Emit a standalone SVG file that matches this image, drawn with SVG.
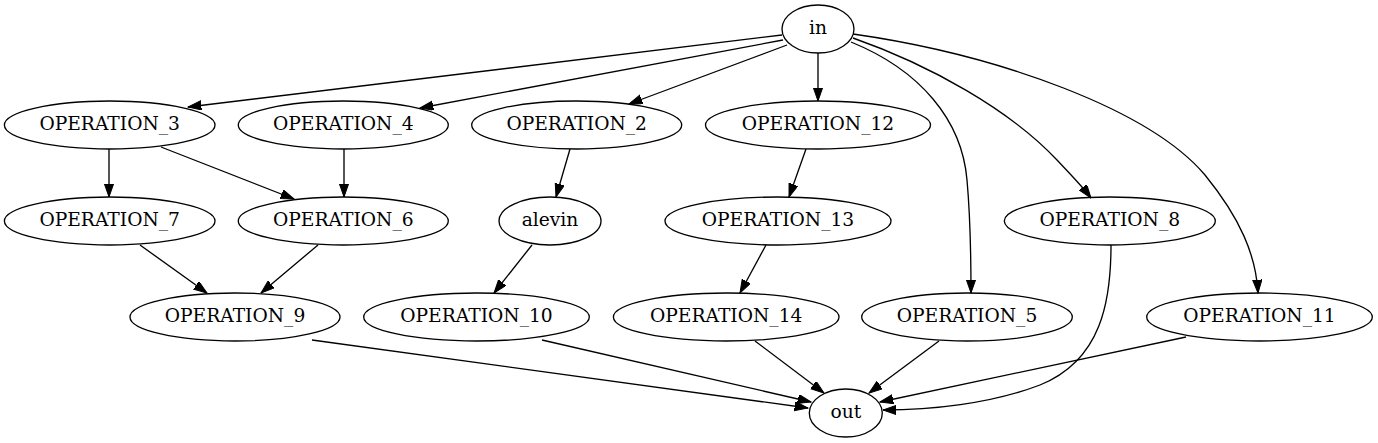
<svg xmlns="http://www.w3.org/2000/svg" width="1378" height="443" viewBox="0 0 1378 443">
<style>
.n ellipse{fill:none;stroke:#000;stroke-width:1.33}
.n text{font-family:"DejaVu Serif",serif;font-size:18.67px;text-anchor:middle;fill:#000}
.e path{fill:none;stroke:#000;stroke-width:1.33;marker-end:url(#ah)}
</style>
<defs>
<marker id="ah" markerUnits="userSpaceOnUse" markerWidth="14" markerHeight="10" refX="13.3" refY="4.67" orient="auto">
<path d="M0,0 L13.3,4.67 L0,9.33 z" fill="#000" stroke="#000" stroke-width="1"/>
</marker>
</defs>
<rect width="1378" height="443" fill="#fff"/>
<g id="edges" class="e">
<path d="M782,35 L188,107"/>
<path d="M783,40 L420,108"/>
<path d="M787,45 L629,104"/>
<path d="M818,53 L818,101"/>
<path d="M851,42 C920,70 962,120 967,180 C971,225 971,260 971,293"/>
<path d="M853,38 C930,65 1010,110 1057,160 C1070,174 1082,186 1091,198"/>
<path d="M853,34 C1000,55 1150,110 1205,175 C1240,218 1256,255 1258,293"/>
<path d="M109,149 L109,197"/>
<path d="M161,147 L294,199"/>
<path d="M344,149 L344,197"/>
<path d="M570,149 L556,197"/>
<path d="M806,149 L789,197"/>
<path d="M140,245 L207,293"/>
<path d="M318,245 L261,293"/>
<path d="M532,245 L494,293"/>
<path d="M766,245 L740,293"/>
<path d="M312,340 L808,408"/>
<path d="M542,340 L811,402"/>
<path d="M755,341 L824,393"/>
<path d="M939,341 L869,393"/>
<path d="M1186,337 L880,402"/>
<path d="M1111,245 C1111,300 1102,360 1040,385 C990,404 930,410 883,410"/>
</g>
<g id="in" class="n"><ellipse cx="818" cy="29" rx="36" ry="24"/><text x="818" y="34">in</text></g>
<g id="OPERATION_3" class="n"><ellipse cx="109.7" cy="125" rx="105.3" ry="24"/><text x="109.7" y="130">OPERATION_3</text></g>
<g id="OPERATION_4" class="n"><ellipse cx="343.3" cy="125" rx="105" ry="24"/><text x="343.3" y="130">OPERATION_4</text></g>
<g id="OPERATION_2" class="n"><ellipse cx="576.7" cy="125" rx="105" ry="24"/><text x="576.7" y="130">OPERATION_2</text></g>
<g id="OPERATION_12" class="n"><ellipse cx="818" cy="125" rx="112.5" ry="24"/><text x="818" y="130">OPERATION_12</text></g>
<g id="OPERATION_7" class="n"><ellipse cx="109.7" cy="221" rx="105.3" ry="24"/><text x="109.7" y="226">OPERATION_7</text></g>
<g id="OPERATION_6" class="n"><ellipse cx="343.3" cy="221" rx="105" ry="24"/><text x="343.3" y="226">OPERATION_6</text></g>
<g id="alevin" class="n"><ellipse cx="550" cy="221" rx="51" ry="24"/><text x="550" y="226">alevin</text></g>
<g id="OPERATION_13" class="n"><ellipse cx="778" cy="221" rx="113" ry="24"/><text x="778" y="226">OPERATION_13</text></g>
<g id="OPERATION_8" class="n"><ellipse cx="1109.8" cy="221" rx="105.5" ry="24"/><text x="1109.8" y="226">OPERATION_8</text></g>
<g id="OPERATION_9" class="n"><ellipse cx="235" cy="317" rx="105" ry="24"/><text x="235" y="322">OPERATION_9</text></g>
<g id="OPERATION_10" class="n"><ellipse cx="476.5" cy="317" rx="112.8" ry="24"/><text x="476.5" y="322">OPERATION_10</text></g>
<g id="OPERATION_14" class="n"><ellipse cx="726.2" cy="317" rx="112.8" ry="24"/><text x="726.2" y="322">OPERATION_14</text></g>
<g id="OPERATION_5" class="n"><ellipse cx="967" cy="317" rx="105.3" ry="24"/><text x="967" y="322">OPERATION_5</text></g>
<g id="OPERATION_11" class="n"><ellipse cx="1259.5" cy="317" rx="112.8" ry="24"/><text x="1259.5" y="322">OPERATION_11</text></g>
<g id="out" class="n"><ellipse cx="845.8" cy="413" rx="36.5" ry="24"/><text x="845.8" y="418">out</text></g>
</svg>
